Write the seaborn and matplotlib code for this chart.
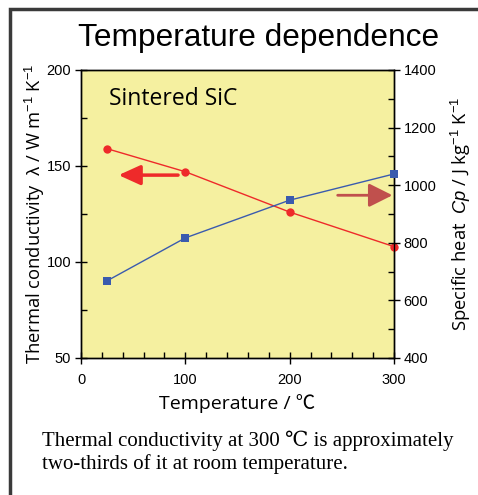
import matplotlib
matplotlib.use("Agg")
import matplotlib.pyplot as plt
from matplotlib.lines import Line2D
from matplotlib.ticker import MultipleLocator
import seaborn as sns
import pandas as pd

# ---- data ----
temperature = [25, 100, 200, 300]
conductivity = [159, 147, 126, 108]       # W m-1 K-1 (left axis)
specific_heat = [668, 817, 948, 1039]     # J kg-1 K-1 (right axis)

title = "Temperature dependence"
material = "Sintered SiC"
xlabel = "Temperature / \u2103"
ylabel_left = r"Thermal conductivity  $\lambda$ / W m$^{-1}$ K$^{-1}$"
ylabel_right = r"Specific heat  $\mathit{Cp}$ / J kg$^{-1}$ K$^{-1}$"
note = "Thermal conductivity at 300 \u2103 is approximately\ntwo-thirds of it at room temperature."

df = pd.DataFrame({"T": temperature, "k": conductivity, "cp": specific_heat})

sns.set_theme(style="ticks")
plt.rcParams["font.family"] = ["Liberation Sans", "DejaVu Sans"]
plt.rcParams["text.color"] = "black"
plt.rcParams["axes.labelcolor"] = "black"
plt.rcParams["mathtext.fontset"] = "custom"
plt.rcParams["mathtext.rm"] = "Liberation Sans"
plt.rcParams["mathtext.it"] = "Liberation Sans:italic"
plt.rcParams["mathtext.default"] = "rm"

RED = "#EE2A2A"
BLUE = "#3A5BAE"
BROWN = "#C0504D"
BG = "#F5F0A0"

fig = plt.figure(figsize=(4.78, 4.95), dpi=100)
fig.patch.set_facecolor("white")
ax = fig.add_axes([0.1695, 0.2768, 0.8243 - 0.1695, 0.8586 - 0.2768])
ax.set_facecolor(BG)
ax2 = ax.twinx()

sns.lineplot(data=df, x="T", y="k", ax=ax, color=RED, marker="o", markersize=6,
             markeredgewidth=0, linewidth=1, clip_on=False, zorder=5)
sns.lineplot(data=df, x="T", y="cp", ax=ax2, color=BLUE, marker="s", markersize=5.5,
             markeredgewidth=0, linewidth=1, clip_on=False, zorder=5)

ax.set_xlim(0, 300)
ax.set_ylim(50, 200)
ax2.set_ylim(400, 1400)
ax.xaxis.set_major_locator(MultipleLocator(100))
ax.xaxis.set_minor_locator(MultipleLocator(20))
ax.yaxis.set_major_locator(MultipleLocator(50))
ax.yaxis.set_minor_locator(MultipleLocator(25))
ax2.yaxis.set_major_locator(MultipleLocator(200))
ax2.yaxis.set_minor_locator(MultipleLocator(100))

for a in (ax, ax2):
    for s in a.spines.values():
        s.set_color("black")
        s.set_linewidth(1.0)
    a.tick_params(which="major", direction="inout", length=8, width=1, colors="black",
                  labelsize=10.5, pad=3)
    a.tick_params(which="minor", direction="in", length=4, width=1, colors="black")
ax.tick_params(axis="x", which="major", pad=7)

ax.set_xlabel(xlabel, fontsize=14, family=["Open Sans", "Noto Sans CJK JP"], labelpad=5)
ax.set_ylabel(ylabel_left, fontsize=13.2, family=["Open Sans", "DejaVu Sans"], labelpad=0)
ax2.set_ylabel(ylabel_right, fontsize=13.2, family=["Open Sans", "DejaVu Sans"], labelpad=9)

ax.text(0.09, 0.90, material, transform=ax.transAxes, fontsize=16.5,
        family=["Open Sans", "DejaVu Sans"], va="center", ha="left")

# direction arrows
ax.annotate("", xy=(0.12, 0.635), xytext=(0.31, 0.635), xycoords="axes fraction",
            arrowprops=dict(arrowstyle="-|>,head_length=1.1,head_width=0.5",
                            color=RED, lw=2.5, shrinkA=0, shrinkB=0))
ax.annotate("", xy=(0.995, 0.565), xytext=(0.82, 0.565), xycoords="axes fraction",
            arrowprops=dict(arrowstyle="-|>,head_length=1.2,head_width=0.6",
                            color=BROWN, lw=2, shrinkA=0, shrinkB=0))

fig.text(0.54, 0.923, title, ha="center", va="center", fontsize=22.8,
         family=["Liberation Sans"])
fig.text(0.088, 0.042, note, ha="left", va="bottom", fontsize=15,
         family=["Liberation Serif", "DejaVu Serif", "Noto Sans CJK JP"], linespacing=1.2)

# frame lines (left and top)
fig.add_artist(Line2D([0.02, 0.02, 1.0], [0.0, 0.982, 0.982], transform=fig.transFigure,
                      color="#3a3a3a", linewidth=2.5, solid_joinstyle="miter"))

fig.savefig("out.png", dpi=100, facecolor="white")
